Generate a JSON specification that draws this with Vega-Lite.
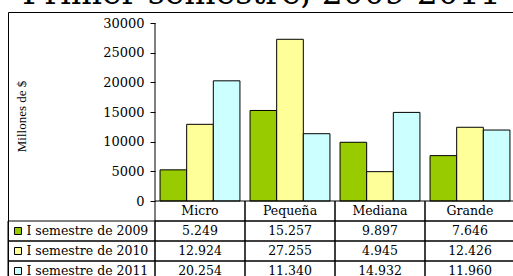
{
  "$schema": "https://vega.github.io/schema/vega-lite/v6.json",
  "autosize": {"type": "none"},
  "padding": {"left": 8, "top": 12, "right": 0, "bottom": 0},
  "width": 507,
  "height": 269,
  "background": "white",
  "title": {"text": "Primer semestre, 2009-2011", "font": "DejaVu Serif", "fontSize": 33, "fontWeight": "normal", "color": "black", "anchor": "middle", "offset": 1},
  "config": {
    "locale": {"number": {"decimal": ",", "thousands": ".", "grouping": [3], "currency": ["$", ""]}},
    "view": {"stroke": "black", "strokeWidth": 1}
  },
  "datasets": {
    "vals": [
      {"cat": "Micro", "serie": "I semestre de 2009", "value": 5249},
      {"cat": "Micro", "serie": "I semestre de 2010", "value": 12924},
      {"cat": "Micro", "serie": "I semestre de 2011", "value": 20254},
      {"cat": "Pequeña", "serie": "I semestre de 2009", "value": 15257},
      {"cat": "Pequeña", "serie": "I semestre de 2010", "value": 27255},
      {"cat": "Pequeña", "serie": "I semestre de 2011", "value": 11340},
      {"cat": "Mediana", "serie": "I semestre de 2009", "value": 9897},
      {"cat": "Mediana", "serie": "I semestre de 2010", "value": 4945},
      {"cat": "Mediana", "serie": "I semestre de 2011", "value": 14932},
      {"cat": "Grande", "serie": "I semestre de 2009", "value": 7646},
      {"cat": "Grande", "serie": "I semestre de 2010", "value": 12426},
      {"cat": "Grande", "serie": "I semestre de 2011", "value": 11960}
    ],
    "cats": [{"cat": "Micro"}, {"cat": "Pequeña"}, {"cat": "Mediana"}, {"cat": "Grande"}],
    "series": [{"serie": "I semestre de 2009"}, {"serie": "I semestre de 2010"}, {"serie": "I semestre de 2011"}],
    "one": [{}]
  },
  "layer": [
    {
      "layer": [
        {
          "data": {"name": "vals"},
          "mark": {"type": "bar", "stroke": "black", "strokeWidth": 1},
          "encoding": {
            "x": {"field": "cat", "type": "nominal", "scale": {"type": "band", "domain": ["Micro", "Pequeña", "Mediana", "Grande"], "paddingInner": 0, "paddingOuter": 0.81667, "align": 1}, "axis": null},
            "xOffset": {"field": "serie", "type": "nominal", "scale": {"domain": ["I semestre de 2009", "I semestre de 2010", "I semestre de 2011"], "paddingInner": 0, "paddingOuter": 0.19}},
            "y": {"field": "value", "type": "quantitative", "scale": {"domain": [-13483, 31854], "nice": false, "zero": false},
              "axis": {"orient": "left", "offset": -147, "values": [0, 5000, 10000, 15000, 20000, 25000, 30000], "format": "d", "domain": false, "grid": false, "ticks": true, "tickSize": 5, "tickColor": "black", "labelFont": "DejaVu Serif", "labelFontSize": 13, "labelColor": "black", "labelPadding": 6, "title": "Millones de $", "titleFont": "Liberation Serif", "titleFontSize": 13, "titleFontWeight": "normal", "titleColor": "black", "titleAngle": 270, "titleBaseline": "bottom", "titleAlign": "center", "titleX": -127, "titleY": 104}},
            "color": {"field": "serie", "type": "nominal", "scale": {"domain": ["I semestre de 2009", "I semestre de 2010", "I semestre de 2011"], "range": ["#99CC00", "#FFFF99", "#CCFFFF"]}, "legend": null}
          }
        },
        {
          "data": {"name": "one"},
          "mark": {"type": "rule", "color": "black", "strokeWidth": 1},
          "encoding": {
            "x": {"datum": "Micro", "type": "nominal", "bandPosition": 0, "axis": null},
            "y": {"datum": 0, "type": "quantitative"},
            "y2": {"datum": 30000}
          }
        }
      ]
    },
    {
      "layer": [
        {
          "data": {"name": "vals"},
          "mark": {"type": "rect", "stroke": "black", "strokeWidth": 1, "fill": "white", "fillOpacity": 0},
          "encoding": {
            "x": {"field": "cat", "type": "nominal", "scale": {"type": "band", "domain": ["Micro", "Pequeña", "Mediana", "Grande"], "paddingInner": 0, "paddingOuter": 0.81667, "align": 1}, "axis": null},
            "y": {"datum": "table", "type": "nominal", "scale": {"type": "band", "domain": ["table"], "paddingInner": 0.15344, "paddingOuter": 1, "align": 1}, "axis": null},
            "yOffset": {"field": "serie", "type": "nominal", "scale": {"domain": ["header", "I semestre de 2009", "I semestre de 2010", "I semestre de 2011"], "paddingInner": 0, "paddingOuter": 0}}
          }
        },
        {
          "data": {"name": "cats"},
          "mark": {"type": "rect", "stroke": "black", "strokeWidth": 1, "fill": "white", "fillOpacity": 0},
          "encoding": {
            "x": {"field": "cat", "type": "nominal", "axis": null},
            "y": {"datum": "table", "type": "nominal", "axis": null},
            "yOffset": {"datum": "header", "type": "nominal"}
          }
        },
        {
          "data": {"name": "vals"},
          "mark": {"type": "text", "font": "DejaVu Serif", "fontSize": 12.5, "color": "black", "baseline": "middle"},
          "encoding": {
            "x": {"field": "cat", "type": "nominal", "bandPosition": 0.5, "axis": null},
            "y": {"datum": "table", "type": "nominal", "axis": null},
            "yOffset": {"field": "serie", "type": "nominal"},
            "text": {"field": "value", "type": "quantitative", "format": ",d"}
          }
        },
        {
          "data": {"name": "cats"},
          "mark": {"type": "text", "font": "DejaVu Serif", "fontSize": 12.5, "color": "black", "baseline": "middle"},
          "encoding": {
            "x": {"field": "cat", "type": "nominal", "bandPosition": 0.5, "axis": null},
            "y": {"datum": "table", "type": "nominal", "axis": null},
            "yOffset": {"datum": "header", "type": "nominal"},
            "text": {"field": "cat", "type": "nominal"}
          }
        }
      ]
    },
    {
      "data": {"name": "series"},
      "layer": [
        {
          "mark": {"type": "rect", "stroke": "black", "strokeWidth": 1, "fill": "white", "fillOpacity": 0},
          "encoding": {
            "x": {"datum": "lbl", "type": "nominal", "scale": {"type": "band", "domain": ["lbl"], "paddingInner": 0.18333, "paddingOuter": 1, "align": 0}, "axis": null},
            "y": {"datum": "table", "type": "nominal", "scale": {"type": "band", "domain": ["table"], "paddingInner": 0.15344, "paddingOuter": 1, "align": 1}, "axis": null},
            "yOffset": {"field": "serie", "type": "nominal", "scale": {"domain": ["header", "I semestre de 2009", "I semestre de 2010", "I semestre de 2011"], "paddingInner": 0, "paddingOuter": 0}}
          }
        },
        {
          "mark": {"type": "point", "shape": "square", "size": 49, "filled": true, "stroke": "black", "strokeWidth": 1, "opacity": 1},
          "encoding": {
            "x": {"datum": "lbl", "type": "nominal", "bandPosition": 0.068, "axis": null},
            "y": {"datum": "table", "type": "nominal", "axis": null},
            "yOffset": {"field": "serie", "type": "nominal"},
            "color": {"field": "serie", "type": "nominal", "legend": null}
          }
        },
        {
          "mark": {"type": "text", "align": "left", "font": "DejaVu Serif", "fontSize": 12.5, "color": "black", "baseline": "middle"},
          "encoding": {
            "x": {"datum": "lbl", "type": "nominal", "bandPosition": 0.125, "axis": null},
            "y": {"datum": "table", "type": "nominal", "axis": null},
            "yOffset": {"field": "serie", "type": "nominal"},
            "text": {"field": "serie", "type": "nominal"}
          }
        }
      ]
    }
  ],
  "resolve": {"scale": {"x": "independent", "y": "independent"}}
}
